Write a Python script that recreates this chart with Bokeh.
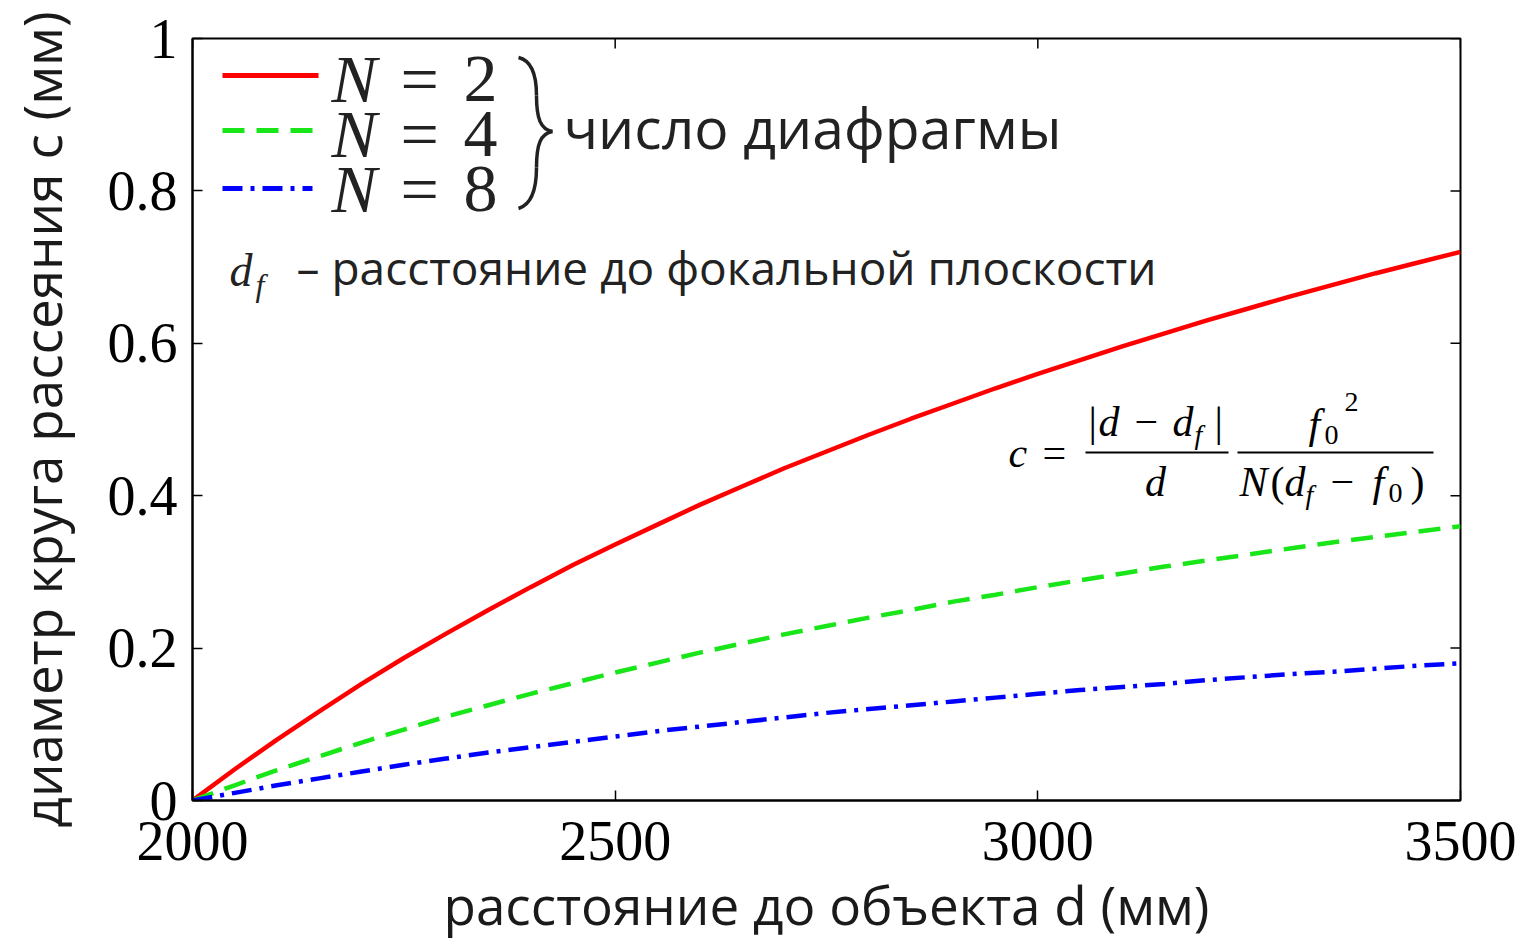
from bokeh.plotting import figure
from bokeh.models import Label, FixedTicker, Range1d
from bokeh.embed import file_html
from bokeh.resources import INLINE

# ---- data ----
distance = [2000, 2050, 2100, 2150, 2200, 2250, 2300, 2350, 2400, 2450, 2500,
            2550, 2600, 2650, 2700, 2750, 2800, 2850, 2900, 2950, 3000,
            3050, 3100, 3150, 3200, 3250, 3300, 3350, 3400, 3450, 3500]
c_N2 = [0.000, 0.041, 0.080, 0.117, 0.153, 0.187, 0.219, 0.250, 0.280, 0.309, 0.336,
        0.362, 0.388, 0.412, 0.436, 0.458, 0.480, 0.501, 0.521, 0.541, 0.560,
        0.578, 0.596, 0.613, 0.630, 0.646, 0.662, 0.677, 0.692, 0.706, 0.720]
c_N4 = [0.000, 0.020, 0.040, 0.058, 0.076, 0.093, 0.110, 0.125, 0.140, 0.154, 0.168,
        0.181, 0.194, 0.206, 0.218, 0.229, 0.240, 0.250, 0.261, 0.270, 0.280,
        0.289, 0.298, 0.307, 0.315, 0.323, 0.331, 0.339, 0.346, 0.353, 0.360]
c_N8 = [0.000, 0.010, 0.020, 0.029, 0.038, 0.047, 0.055, 0.063, 0.070, 0.077, 0.084,
        0.091, 0.097, 0.103, 0.109, 0.115, 0.120, 0.125, 0.130, 0.135, 0.140,
        0.145, 0.149, 0.153, 0.158, 0.162, 0.166, 0.169, 0.173, 0.177, 0.180]
x_ticks = [2000, 2500, 3000, 3500]
y_ticks = [0, 0.2, 0.4, 0.6, 0.8, 1]
y_tick_labels = {0: "0", 0.2: "0.2", 0.4: "0.4", 0.6: "0.6", 0.8: "0.8", 1: "1"}

RED, GREEN, BLUE = "#ff0000", "#19e619", "#0000ff"
GREEN_DASH = "22 12"
BLUE_DASH = "20 8 4 8"
INK = "#1a1a1a"

# frame position (pixels) in the picture
FL, FR, FT, FB = 192, 1460, 38, 800
W, H = 1525, 943
p = figure(width=W, height=H, output_backend="svg", toolbar_location=None,
           x_range=Range1d(2000, 3500), y_range=Range1d(0, 1),
           min_border_left=FL, min_border_right=W - FR,
           min_border_top=FT, min_border_bottom=H - FB)
p.grid.visible = False
p.outline_line_color = "black"
p.outline_line_width = 2
p.background_fill_color = "white"
p.border_fill_color = "white"

SERIF = "Liberation Serif"
SANS = "Open Sans"

for ax in (p.xaxis[0], p.yaxis[0]):
    ax.major_tick_in = 10
    ax.major_tick_out = 0
    ax.minor_tick_in = 0
    ax.minor_tick_out = 0
    ax.axis_line_color = "black"
    ax.axis_line_width = 2
    ax.major_tick_line_width = 1.5
    ax.major_label_text_font = SERIF
    ax.major_label_text_color = "black"
    ax.axis_label_text_font = SANS
    ax.axis_label_text_font_style = "normal"
    ax.axis_label_text_color = INK
    ax.axis_label_text_font_size = "53px"

p.xaxis[0].ticker = FixedTicker(ticks=x_ticks)
p.yaxis[0].ticker = FixedTicker(ticks=y_ticks)
p.yaxis[0].major_label_overrides = y_tick_labels
p.xaxis[0].major_label_text_font_size = "56px"
p.yaxis[0].major_label_text_font_size = "56px"
p.xaxis[0].major_label_standoff = 21
p.yaxis[0].major_label_standoff = 15
p.xaxis[0].axis_label = "расстояние до объекта d (мм)"
p.yaxis[0].axis_label = "диаметр круга рассеяния c (мм)"
p.xaxis[0].axis_label_standoff = 5
p.yaxis[0].axis_label_standoff = 27

# helpers: picture-pixel position -> data position (annotation placement only)
def dx(px):
    return 2000 + (px - FL) / (FR - FL) * 1500

def dy(py):
    return (FB - py) / (FB - FT)

# mirror ticks on top and right edges
TICK = 10
p.segment(x0=x_ticks, y0=[1] * len(x_ticks), x1=x_ticks,
          y1=[1 - TICK / (FB - FT)] * len(x_ticks), line_color="black", line_width=1.5)
p.segment(x0=[3500] * len(y_ticks), y0=y_ticks,
          x1=[3500 - TICK / (FR - FL) * 1500] * len(y_ticks), y1=y_ticks,
          line_color="black", line_width=1.5)

# ---- curves ----
p.line(distance, c_N2, line_color=RED, line_width=4.5)
p.line(distance, c_N4, line_color=GREEN, line_width=4.5, line_dash=GREEN_DASH)
p.line(distance, c_N8, line_color=BLUE, line_width=4.5, line_dash=BLUE_DASH)


def lab(px, py, text, font=SERIF, size=44, style="normal", align="left",
        color="black"):
    # py is the wanted baseline (pixels from top); correct for the renderer's
    # baseline offset
    shift = (0.31 if font == SERIF else 0.41) * size
    p.add_layout(Label(x=dx(px), y=dy(py - shift), text=text, text_font=font,
                       text_font_size=f"{size}px", text_font_style=style,
                       text_align=align, text_baseline="alphabetic",
                       text_color=color))

# ---- legend (manual) ----
legend_y = [75, 130, 188]
p.segment(x0=[dx(222)], y0=[dy(legend_y[0])], x1=[dx(318)], y1=[dy(legend_y[0])],
          line_color=RED, line_width=5)
p.segment(x0=[dx(222)], y0=[dy(legend_y[1])], x1=[dx(320)], y1=[dy(legend_y[1])],
          line_color=GREEN, line_width=5, line_dash=GREEN_DASH)
p.segment(x0=[dx(222)], y0=[dy(legend_y[2])], x1=[dx(312)], y1=[dy(legend_y[2])],
          line_color=BLUE, line_width=5, line_dash=BLUE_DASH)
for base, digit in zip([100, 155, 210], ["2", "4", "8"]):
    lab(331, base, "N", size=68, style="italic", color="#222222")
    lab(400, base, "=", size=68, color="#222222")
    lab(463, base, digit, size=68, color="#222222")

# brace
bx0 = [518, 536, 552, 536]
by0 = [57, 95, 131, 167]
bx1 = [536, 552, 536, 518]
by1 = [95, 131, 167, 208]
bcx0 = [531, 536, 540, 536]
bcy0 = [60, 118, 133, 188]
bcx1 = [536, 540, 536, 531]
bcy1 = [75, 129, 144, 204]
p.bezier(x0=[dx(v) for v in bx0], y0=[dy(v) for v in by0],
         x1=[dx(v) for v in bx1], y1=[dy(v) for v in by1],
         cx0=[dx(v) for v in bcx0], cy0=[dy(v) for v in bcy0],
         cx1=[dx(v) for v in bcx1], cy1=[dy(v) for v in bcy1],
         line_color="#222222", line_width=3.5)

lab(563, 150, "число диафрагмы", font=SANS, size=57, color="#222222")

# d_f description
lab(229, 284, "d", size=46, style="italic", color="#222222")
lab(255, 294, "f", size=32, style="italic", color="#222222")
lab(296, 285, "– расстояние до фокальной плоскости", font=SANS, size=46, color="#222222")

# formula
FS = 42
SUB = 28
lab(1008, 466, "c", size=FS, style="italic")
lab(1042, 466, "=", size=FS)
p.segment(x0=[dx(1085), dx(1237)], y0=[dy(452), dy(452)],
          x1=[dx(1228), dx(1433)], y1=[dy(452), dy(452)],
          line_color="black", line_width=2)
lab(1088, 435, "|", size=FS)
lab(1098, 435, "d", size=FS, style="italic")
lab(1134, 435, "−", size=FS)
lab(1172, 435, "d", size=FS, style="italic")
lab(1194, 443, "f", size=SUB, style="italic")
lab(1214, 435, "|", size=FS)
lab(1155, 495, "d", size=FS, style="italic", align="center")
lab(1308, 437, "f", size=FS, style="italic")
lab(1324, 443, "0", size=SUB)
lab(1344, 410, "2", size=SUB)
lab(1239, 495, "N", size=FS, style="italic")
lab(1270, 495, "(", size=FS)
lab(1284, 495, "d", size=FS, style="italic")
lab(1305, 503, "f", size=SUB, style="italic")
lab(1330, 495, "−", size=FS)
lab(1372, 495, "f", size=FS, style="italic")
lab(1388, 501, "0", size=SUB)
lab(1410, 495, ")", size=FS)

open("out.html", "w").write(file_html(p, INLINE))
